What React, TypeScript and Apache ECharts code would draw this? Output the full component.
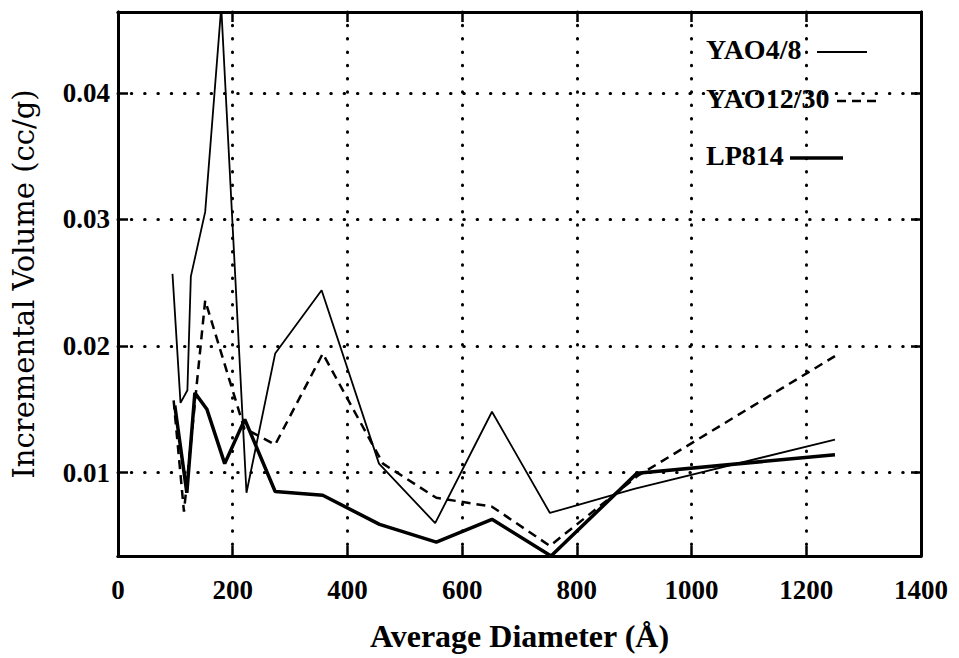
import React, { useEffect, useRef } from "react";
import * as echarts from "echarts";

// Average diameter (Å) and incremental volume (cc/g)
const yao48X = [95, 109, 121, 127, 152, 180, 224, 274, 355, 455, 553, 652, 753, 900, 1250];
const yao48Y = [0.0257, 0.0155, 0.0165, 0.0255, 0.0306, 0.0468, 0.0084, 0.0194, 0.0244, 0.0107, 0.006, 0.0148, 0.0068, 0.0087, 0.0126];

const yao1230X = [97, 115, 152, 220, 274, 357, 462, 555, 652, 753, 905, 1250];
const yao1230Y = [0.0157, 0.0069, 0.0236, 0.0135, 0.0122, 0.0194, 0.0107, 0.008, 0.0073, 0.0042, 0.0097, 0.0192];

const lp814X = [99, 120, 134, 155, 186, 221, 274, 357, 456, 555, 652, 755, 905, 1250];
const lp814Y = [0.0153, 0.0084, 0.0163, 0.015, 0.0107, 0.0142, 0.0085, 0.0082, 0.0059, 0.0045, 0.0063, 0.0034, 0.00995, 0.0114];

const seriesNames = ["YAO4/8", "YAO12/30", "LP814"];
const xTicks = [0, 200, 400, 600, 800, 1000, 1200, 1400];
const yTicks = [0.01, 0.02, 0.03, 0.04];

const X_MIN = 0;
const X_MAX = 1400;
const Y_MIN = 0.0034;
const Y_MAX = 0.0464;

const FONT = "Liberation Serif";
const WIDE_FONT = "DejaVu Serif";

function pairs(xs: number[], ys: number[]) {
  return xs.map((x, i) => [x, ys[i]]);
}

export default function App() {
  const ref = useRef<HTMLDivElement>(null);

  useEffect(() => {
    if (!ref.current) return;
    const chart = echarts.init(ref.current, undefined, { renderer: "svg" });

    const dotted = { type: [0.5, 12.8] as number[], width: 3, color: "#000", cap: "round" as const };
    const isTickY = (v: number) => yTicks.some((t) => Math.abs(t - v) < 1e-9);

    const legendItems = [
      { name: seriesNames[0], y: 52, x1: 817, x2: 867, width: 2, dash: null as number[] | null },
      { name: seriesNames[1], y: 101, x1: 837, x2: 882, width: 2.5, dash: [9, 6] },
      { name: seriesNames[2], y: 158, x1: 790, x2: 843, width: 3.5, dash: null },
    ];

    const graphic: any[] = [];
    legendItems.forEach((it) => {
      graphic.push({
        type: "text",
        left: 706,
        top: it.y - 17,
        style: { text: it.name, font: `bold 28px "${FONT}"`, fill: "#000" },
        z: 10,
      });
      graphic.push({
        type: "line",
        shape: { x1: it.x1, y1: it.y, x2: it.x2, y2: it.y },
        style: { stroke: "#000", lineWidth: it.width, lineDash: it.dash || undefined },
        z: 10,
      });
    });

    const axisLine = { show: true, onZero: false, lineStyle: { color: "#000", width: 3 } };
    const axisTick = { show: true, inside: true, length: 10, lineStyle: { color: "#000", width: 2.5 } };

    chart.setOption({
      animation: false,
      backgroundColor: "#fff",
      grid: { left: 118, top: 12, right: 38, bottom: 102, containLabel: false },
      graphic,
      xAxis: [
        {
          type: "value",
          min: X_MIN,
          max: X_MAX,
          interval: 200,
          position: "bottom",
          name: "Average Diameter (Å)",
          nameLocation: "middle",
          nameGap: 64,
          nameTextStyle: { fontFamily: FONT, fontWeight: "bold", fontSize: 32, color: "#000" },
          axisLine,
          axisTick,
          axisLabel: {
            margin: 20,
            fontFamily: FONT,
            fontWeight: "bold",
            fontSize: 27,
            color: "#000",
            formatter: (v: number) => (xTicks.includes(v) ? String(v) : ""),
          },
          splitLine: { show: true, lineStyle: dotted },
        },
        {
          type: "value",
          min: X_MIN,
          max: X_MAX,
          interval: 200,
          position: "top",
          axisLine,
          axisTick,
          axisLabel: { show: false },
          splitLine: { show: false },
        },
      ],
      yAxis: [
        {
          type: "value",
          min: Y_MIN,
          max: Y_MAX,
          splitNumber: 4,
          minInterval: 0.01,
          maxInterval: 0.01,
          position: "left",
          name: "Incremental Volume (cc/g)",
          nameLocation: "middle",
          nameGap: 80,
          nameTextStyle: { fontFamily: WIDE_FONT, fontSize: 29, color: "#000" },
          axisLine,
          axisTick,
          axisLabel: {
            margin: 8,
            fontFamily: FONT,
            fontWeight: "bold",
            fontSize: 27,
            color: "#000",
            formatter: (v: number) => (isTickY(v) ? v.toFixed(2) : ""),
          },
          splitLine: { show: true, lineStyle: dotted },
        },
        {
          type: "value",
          min: Y_MIN,
          max: Y_MAX,
          splitNumber: 4,
          minInterval: 0.01,
          maxInterval: 0.01,
          position: "right",
          axisLine,
          axisTick,
          axisLabel: { show: false },
          splitLine: { show: false },
        },
      ],
      series: [
        {
          name: seriesNames[0],
          type: "line",
          data: pairs(yao48X, yao48Y),
          showSymbol: false,
          symbol: "none",
          lineStyle: { color: "#000", width: 1.8, type: "solid" },
          z: 5,
        },
        {
          name: seriesNames[1],
          type: "line",
          data: pairs(yao1230X, yao1230Y),
          showSymbol: false,
          symbol: "none",
          lineStyle: { color: "#000", width: 2.5, type: [9, 6] },
          z: 5,
        },
        {
          name: seriesNames[2],
          type: "line",
          data: pairs(lp814X, lp814Y),
          showSymbol: false,
          symbol: "none",
          lineStyle: { color: "#000", width: 3.5, type: "solid" },
          z: 5,
        },
      ],
    });

    return () => chart.dispose();
  }, []);

  return (
    <div
      ref={ref}
      style={{ position: "fixed", left: 0, top: 0, width: 959, height: 658, background: "#fff" }}
    />
  );
}
